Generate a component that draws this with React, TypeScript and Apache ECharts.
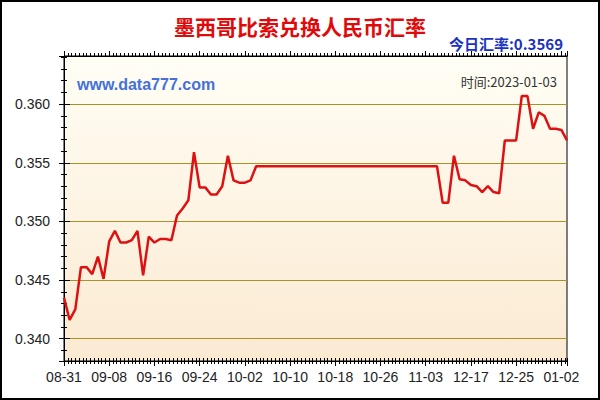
import React, { useEffect, useRef } from 'react';
import * as echarts from 'echarts';

const TITLE = '墨西哥比索兑换人民币汇率';
const SITE = 'www.data777.com';
const TIME_TEXT = '时间:2023-01-03';

const dates: string[] = [
  '08-31',
  '09-01', '09-02', '09-03', '09-04', '09-05', '09-06', '09-07', '09-08', '09-09', '09-10',
  '09-11', '09-12', '09-13', '09-14', '09-15', '09-16', '09-17', '09-18', '09-19', '09-20',
  '09-21', '09-22', '09-23', '09-24', '09-25', '09-26', '09-27', '09-28', '09-29', '09-30',
  '10-01', '10-02', '10-03', '10-04', '10-05', '10-06', '10-07', '10-08', '10-09', '10-10',
  '10-11', '10-12', '10-13', '10-14', '10-15', '10-16', '10-17', '10-18', '10-19', '10-20',
  '10-21', '10-22', '10-23', '10-24', '10-25', '10-26', '10-27', '10-28', '10-29', '10-30',
  '10-31', '11-01', '11-02', '11-03',
  '12-10', '12-11', '12-12', '12-13', '12-14', '12-15', '12-16', '12-17', '12-18', '12-19',
  '12-20', '12-21', '12-22', '12-23', '12-24', '12-25', '12-26', '12-27', '12-28', '12-29',
  '12-30', '12-31', '01-01', '01-02', '01-03',
];

const rates: number[] = [
  0.3435, 0.3416, 0.3425, 0.3461, 0.3461, 0.3455, 0.3470, 0.3451, 0.3483, 0.3492,
  0.3482, 0.3482, 0.3484, 0.3492, 0.3454, 0.3487, 0.3482, 0.3485, 0.3485, 0.3484,
  0.3505, 0.3511, 0.3518, 0.3559, 0.3529, 0.3529, 0.3523, 0.3523, 0.3530, 0.3556,
  0.3535, 0.3533, 0.3533, 0.3535, 0.3547, 0.3547, 0.3547, 0.3547, 0.3547, 0.3547,
  0.3547, 0.3547, 0.3547, 0.3547, 0.3547, 0.3547, 0.3547, 0.3547, 0.3547, 0.3547,
  0.3547, 0.3547, 0.3547, 0.3547, 0.3547, 0.3547, 0.3547, 0.3547, 0.3547, 0.3547,
  0.3547, 0.3547, 0.3547, 0.3547, 0.3547, 0.3547, 0.3547, 0.3516, 0.3516, 0.3556,
  0.3536, 0.3535, 0.3531, 0.3530, 0.3525, 0.3530, 0.3525, 0.3524, 0.3569, 0.3569,
  0.3569, 0.3607, 0.3607, 0.3579, 0.3593, 0.3590, 0.3579, 0.3579, 0.3578, 0.3569,
];

const Y_MIN = 0.3381;
const Y_MAX = 0.3641;
const Y_STEP = 0.005;

const LATIN = '"Liberation Sans", Arial, sans-serif';
const CJK = '"Noto Sans CJK SC", "Liberation Sans", sans-serif';

export default function App() {
  const ref = useRef<HTMLDivElement>(null);

  useEffect(() => {
    if (!ref.current) return;
    const chart = echarts.init(ref.current, null, { renderer: 'svg' });

    const yBase = {
      type: 'value' as const,
      min: Y_MIN,
      max: Y_MAX,
      splitNumber: 5,
      minInterval: Y_STEP,
      maxInterval: Y_STEP,
    };
    const lastIdx = rates.length - 1;

    chart.setOption({
      animation: false,
      backgroundColor: '#ffffff',
      grid: {
        left: 64,
        top: 56,
        right: 33,
        bottom: 39,
        show: true,
        borderColor: '#000',
        borderWidth: 1,
        backgroundColor: {
          type: 'linear', x: 0, y: 0, x2: 0, y2: 1,
          colorStops: [
            { offset: 0, color: '#FFFEF5' },
            { offset: 1, color: '#FBEAD2' },
          ],
        },
      },
      xAxis: [
        {
          type: 'category',
          data: dates,
          position: 'bottom',
          boundaryGap: false,
          axisLine: { show: true, lineStyle: { color: '#000', width: 1 } },
          axisTick: { show: false },
          axisLabel: { interval: 7, margin: 9, color: '#222', fontSize: 14, fontFamily: LATIN },
          splitLine: { show: false },
        },
        {
          type: 'value', position: 'bottom', min: 0, max: lastIdx, interval: 8,
          axisLine: { show: false },
          axisLabel: { show: false },
          splitLine: { show: false },
          axisTick: { show: true, length: 5, lineStyle: { color: '#000' } },
          minorTick: { show: true, splitNumber: 12, length: 3, lineStyle: { color: '#000' } },
        },
        {
          type: 'value', position: 'bottom', min: 0, max: lastIdx, interval: 8,
          axisLine: { show: false },
          axisLabel: { show: false },
          splitLine: { show: false },
          axisTick: { show: true, inside: true, length: 3, lineStyle: { color: '#000' } },
          minorTick: { show: true, splitNumber: 12, length: 3, lineStyle: { color: '#000' } },
        },
        {
          type: 'value', position: 'top', min: 0, max: lastIdx, interval: 8,
          axisLine: { show: true, lineStyle: { color: '#000' } },
          axisLabel: { show: false },
          splitLine: { show: false },
          axisTick: { show: true, length: 5, lineStyle: { color: '#000' } },
          minorTick: { show: true, splitNumber: 12, length: 3, lineStyle: { color: '#000' } },
        },
      ],
      yAxis: [
        {
          ...yBase,
          position: 'left',
          axisLine: { show: true, lineStyle: { color: '#000' } },
          axisTick: { show: true, length: 5, lineStyle: { color: '#000' } },
          minorTick: { show: true, splitNumber: 5, length: 3, lineStyle: { color: '#000' } },
          axisLabel: {
            margin: 14, color: '#222', fontSize: 14, fontFamily: LATIN,
            showMinLabel: false, showMaxLabel: false,
            formatter: (v: number) => v.toFixed(3),
          },
          splitLine: {
            show: true, showMinLine: false, showMaxLine: false,
            lineStyle: { color: '#A89224', width: 1 },
          },
        },
        {
          ...yBase,
          position: 'left',
          axisLine: { show: false },
          axisLabel: { show: false },
          splitLine: { show: false },
          axisTick: { show: true, inside: true, length: 3, lineStyle: { color: '#000' } },
          minorTick: { show: true, splitNumber: 5, length: 3, lineStyle: { color: '#000' } },
        },
        {
          ...yBase,
          position: 'right',
          axisLine: { show: true, lineStyle: { color: '#000' } },
          axisLabel: { show: false },
          splitLine: { show: false },
          axisTick: { show: true, length: 6, lineStyle: { color: '#000' } },
          minorTick: { show: true, splitNumber: 5, length: 3, lineStyle: { color: '#000' } },
        },
      ],
      series: [
        {
          type: 'line',
          xAxisIndex: 0,
          yAxisIndex: 0,
          data: rates,
          symbol: 'none',
          smooth: false,
          z: 5,
          lineStyle: { color: '#DD1111', width: 2.5 },
        },
      ],
      graphic: [
        {
          type: 'text', x: 300, y: 26, silent: true,
          style: {
            text: TITLE, fill: '#E00A0A', font: `bold 21px ${CJK}`,
            align: 'center', verticalAlign: 'middle',
          },
        },
        {
          type: 'text', x: 563, y: 43, silent: true,
          style: {
            text: `今日汇率:${rates[lastIdx].toFixed(4)}`, fill: '#1A32C2', font: `bold 15px ${CJK}`,
            align: 'right', verticalAlign: 'middle',
          },
        },
        {
          type: 'text', x: 77, y: 84, silent: true,
          style: {
            text: SITE, fill: '#4470DA', font: `bold 16px ${LATIN}`,
            align: 'left', verticalAlign: 'middle',
          },
        },
        {
          type: 'text', x: 557, y: 81, silent: true,
          style: {
            text: TIME_TEXT, fill: '#333', font: `13px ${CJK}`,
            align: 'right', verticalAlign: 'middle',
          },
        },
        {
          type: 'rect', silent: true, z: 100,
          shape: { x: 1, y: 1, width: 598, height: 398 },
          style: { fill: 'none', stroke: '#000', lineWidth: 2 },
        },
      ],
    });

    return () => chart.dispose();
  }, []);

  return (
    <div
      ref={ref}
      style={{ position: 'fixed', left: 0, top: 0, width: 600, height: 400, background: '#fff' }}
    />
  );
}
